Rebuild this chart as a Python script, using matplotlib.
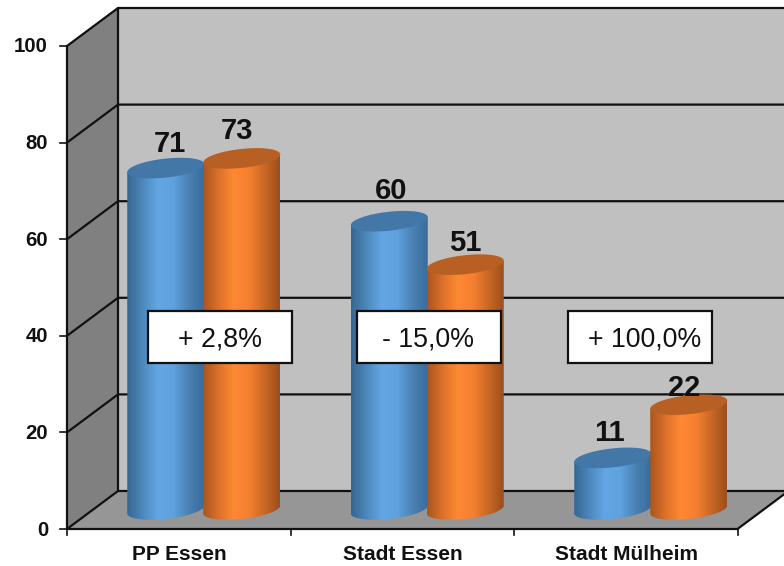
import numpy as np
import matplotlib
matplotlib.use("Agg")
import matplotlib.pyplot as plt
from matplotlib.colors import LinearSegmentedColormap
from matplotlib.patches import Polygon, Rectangle

# Values
categories = ["PP Essen", "Stadt Essen", "Stadt Mülheim"]
series_blue = [71, 60, 11]
series_orange = [73, 51, 22]
changes = ["+ 2,8%", "- 15,0%", "+ 100,0%"]
yticks = [0, 20, 40, 60, 80, 100]

plt.rcParams["font.family"] = ["Liberation Sans", "DejaVu Sans"]

W, H = 784, 566
PX_X = 223.5   # pixels per category
PX_Y = 4.83    # pixels per value unit

fig = plt.figure(figsize=(W / 100, H / 100), dpi=100)
ax = fig.add_axes([0, 0, 1, 1])
ax.axis("off")

# x = category position, y = value in the plane of the bars
x_left = -0.5 - 67 / PX_X
y_top = 511 / PX_Y
xlim = (x_left, x_left + W / PX_X)
ylim = (y_top - H / PX_Y, y_top)

# the frame: front plane and back wall offsets
x_front = -0.5
x_end = len(categories) - 0.5
dx = 51 / PX_X
y_front = -18 / PX_Y
y_back = 20 / PX_Y
vmax = yticks[-1]

ax.add_patch(Rectangle((x_front + dx, y_back), 4, vmax, fc="#C0C0C0", ec="none", zorder=1))
ax.add_patch(Polygon([(x_front, y_front), (x_front + dx, y_back),
                      (x_front + dx, y_back + vmax), (x_front, y_front + vmax)],
                     fc="#808080", ec="none", zorder=1))
ax.add_patch(Polygon([(x_front, y_front), (x_end, y_front),
                      (x_end + dx, y_back), (x_front + dx, y_back)],
                     fc="#969696", ec="none", zorder=1))

line = dict(color="#111111", lw=1.6, zorder=2, solid_capstyle="round")
for v in yticks:
    ax.plot([x_front, x_front + dx, xlim[1] + 1], [y_front + v, y_back + v, y_back + v], **line)
    ax.plot([x_front - 7 / PX_X, x_front], [y_front + v, y_front + v], color="#111111", lw=1.2, zorder=2)
    ax.text(x_front - 19 / PX_X, y_front + v + 1 / PX_Y, str(v), ha="right", va="center_baseline",
            fontsize=14.7, fontweight="bold", color="#111111", zorder=6)
ax.plot([x_front, x_front], [y_front, y_front + vmax], **line)
ax.plot([x_front + dx, x_front + dx], [y_back, y_back + vmax], **line)
ax.plot([x_front, x_end, x_end + dx], [y_front, y_front, y_back], **line)

for i in range(len(categories) + 1):
    ax.plot([x_front + i, x_front + i], [y_front, y_front - 6 / PX_Y], color="#111111", lw=1.2, zorder=2)

blue_cmap = LinearSegmentedColormap.from_list(
    "blue", ["#356690", "#4C87BC", "#62A6E4", "#5FA2DF", "#4A82B4", "#3A6C9A"])
orange_cmap = LinearSegmentedColormap.from_list(
    "orange", ["#A9551F", "#DB7129", "#FF8833", "#F57F30", "#C96825", "#9C4E1C"])
gradient = np.linspace(0, 1, 256).reshape(1, -1)

bar_w = 77 / PX_X
semi_y = 9.5 / PX_Y
shear = 4 / PX_Y
base_lift = 1.5 / PX_Y
t = np.linspace(0, 2 * np.pi, 120)

# nudges of the value labels from their cylinder, in pixels (x, baseline above the top)
blue_label_nudge = [(4.5, 16), (2, 22), (-3.5, 17)]
orange_label_nudge = [(-5, 19), (0, 14), (-4.5, 9)]
box_centers = [220, 428.5, 640]
box_text_nudge = [0, 0, 5]


def ellipse_points(cx, cy, angles):
    return np.column_stack([cx + bar_w / 2 * np.cos(angles),
                            cy + semi_y * np.sin(angles) + shear * np.cos(angles)])


def draw_cylinder(cx, value, cmap, top_color, z):
    lower = ellipse_points(cx, base_lift, np.linspace(np.pi, 2 * np.pi, 60))
    upper = ellipse_points(cx, value, np.array([0.0, np.pi]))
    body = Polygon(np.vstack([lower, upper]), fc="none", ec="none", zorder=z)
    ax.add_patch(body)
    im = ax.imshow(gradient, cmap=cmap, aspect="auto", zorder=z,
                   extent=(cx - bar_w / 2, cx + bar_w / 2, -10, value + 5))
    im.set_clip_path(body)
    ax.add_patch(Polygon(ellipse_points(cx, value, t), fc=top_color, ec="none", zorder=z + 0.1))


for i, cat in enumerate(categories):
    x_blue = i - 13 / PX_X
    x_orange = i + 63 / PX_X
    draw_cylinder(x_blue, series_blue[i], blue_cmap, "#4377A8", 3)
    draw_cylinder(x_orange, series_orange[i], orange_cmap, "#B86023", 4)

    nx, ny = blue_label_nudge[i]
    ax.text(x_blue + nx / PX_X, series_blue[i] + ny / PX_Y, str(series_blue[i]),
            ha="center", va="baseline", fontsize=21, fontweight="bold", color="#111111", zorder=6)
    nx, ny = orange_label_nudge[i]
    ax.text(x_orange + nx / PX_X, series_orange[i] + ny / PX_Y, str(series_orange[i]),
            ha="center", va="baseline", fontsize=21, fontweight="bold", color="#111111", zorder=6)

    ax.text(i + 1 / PX_X, y_front - 25 / PX_Y, cat, ha="center", va="center",
            fontsize=15, fontweight="bold", color="#111111", zorder=6)

    # white change boxes, all at the same height
    box_x = x_left + box_centers[i] / PX_X
    box_y = (511 - 363) / PX_Y
    ax.add_patch(Rectangle((box_x - 72 / PX_X, box_y), 144 / PX_X, 52 / PX_Y,
                           fc="white", ec="#111111", lw=1.6, zorder=7))
    ax.text(box_x + box_text_nudge[i] / PX_X, box_y + 26 / PX_Y, changes[i], ha="center",
            va="center_baseline", fontsize=19.3, color="#111111", zorder=8)

ax.set_xlim(*xlim)
ax.set_ylim(*ylim)

fig.savefig("out.png", dpi=100, facecolor="white")
